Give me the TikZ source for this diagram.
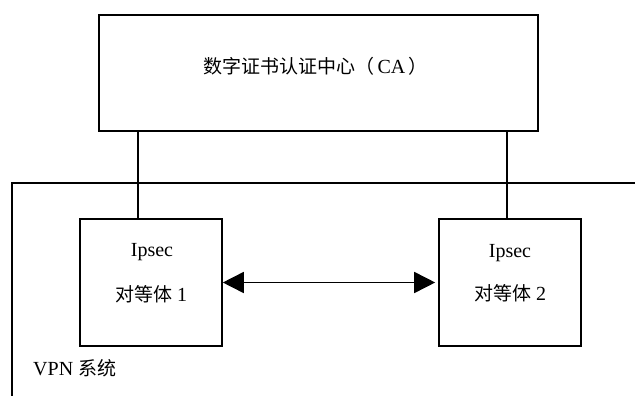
\documentclass[tikz,border=0pt]{standalone}
\usepackage{fontspec}
\setmainfont{Liberation Serif}
\newfontfamily\cjk{Noto Sans CJK SC}
\usetikzlibrary{arrows.meta}
\newcommand{\zh}[1]{{\cjk\fontsize{19}{23}\selectfont #1}}
\begin{document}
\begin{tikzpicture}[x=1pt,y=-1pt,
  box/.style={draw,line width=1.6pt,inner sep=0pt,minimum width=#1},
  lbl/.style={inner sep=0pt,font=\fontsize{20}{24}\selectfont},
  wire/.style={line width=1.6pt}]
\useasboundingbox (0,0) rectangle (635,396);
% CA box
\node[box=439pt,minimum height=116pt] (ca) at (318.5,73) {};
\node[lbl] (catext) at (315.5,66) {\zh{数字证书认证中心（}\hspace{3pt}CA\hspace{3pt}\zh{）}};
% peers
\node[box=142pt,minimum height=127pt] (p1) at (151,282.5) {};
\node[box=142pt,minimum height=127pt] (p2) at (510,282.5) {};
\node[lbl] (p1a) at (152,252) {Ipsec};
\node[lbl] (p1b) at (151,294) {\zh{对等体} 1};
\node[lbl] (p2a) at (510,253) {Ipsec};
\node[lbl] (p2b) at (510,293) {\zh{对等体} 2};
% VPN frame
\coordinate (ftr) at (635,183);
\coordinate (ftl) at (12,183);
\coordinate (fbl) at (12,396);
\draw[wire] (ftr) -- (ftl) -- (fbl);
\node[lbl,anchor=west] (vpn) at (33,368) {VPN \zh{系统}};
% connectors
\draw[wire] (138,0 |- ca.south) -- (138,0 |- p1.north);
\draw[wire] (507,0 |- ca.south) -- (507,0 |- p2.north);
\draw[wire,{Triangle[length=21pt,width=21pt]}-{Triangle[length=21pt,width=21pt]},shorten >=3pt] (p1.east) -- (p2.west);
\end{tikzpicture}
\end{document}
